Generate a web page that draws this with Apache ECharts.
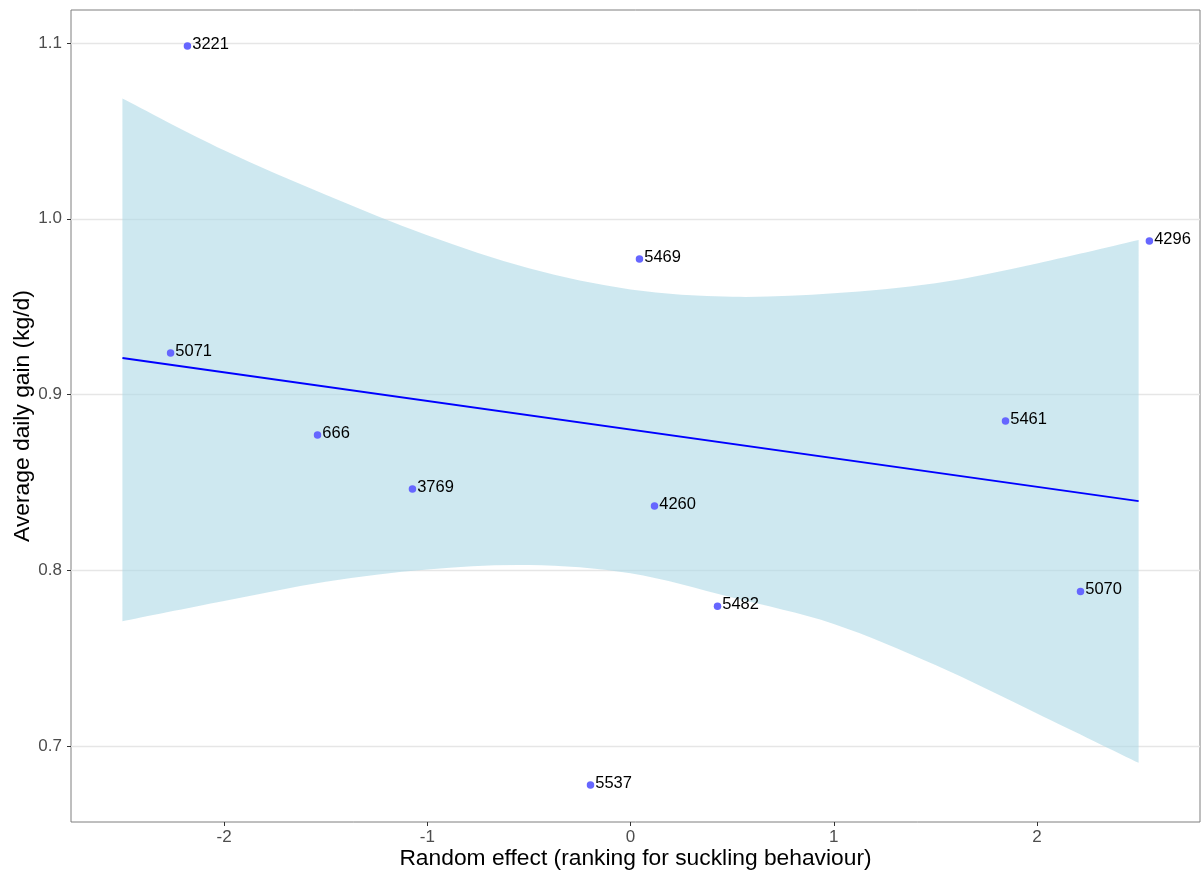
<!DOCTYPE html>
<html>
<head>
<meta charset="utf-8">
<script src="https://cdn.jsdelivr.net/npm/echarts@6/dist/echarts.min.js"></script>
<style>
  html, body { margin: 0; padding: 0; background: #fff; }
  #chart { width: 1201px; height: 870px; }
</style>
</head>
<body>
<div id="chart"></div>
<script>
// Sow IDs with their suckling-behaviour random effect and average daily gain
const sowIds = ['3221', '4296', '5469', '5071', '666', '5461', '3769', '4260', '5482', '5070', '5537'];
const randomEffect = [-2.180, 2.553, 0.044, -2.263, -1.540, 1.845, -1.073, 0.118, 0.428, 2.214, -0.197];
const dailyGain = [1.0983, 0.9873, 0.9771, 0.9236, 0.8770, 0.8849, 0.8462, 0.8366, 0.7795, 0.7880, 0.6778];

// Linear fit end points
const fitX = [-2.5, 2.5];
const fitY = [0.9208, 0.8394];

// Confidence band of the fit
const bandX = [-2.5, -2, -1.5, -1, -0.5, 0, 0.5, 1, 1.5, 2, 2.5];
const bandLower = [0.7710, 0.7825, 0.7935, 0.8005, 0.8030, 0.7983, 0.7845, 0.7695, 0.7461, 0.7186, 0.6905];
const bandUpper = [1.0685, 1.0390, 1.0137, 0.9906, 0.9718, 0.9598, 0.9556, 0.9576, 0.9633, 0.9746, 0.9879];

// Axis ticks
const xTicks = [-2, -1, 0, 1, 2];
const yTicks = [0.7, 0.8, 0.9, 1.0, 1.1];

const FONT = '"Liberation Sans", Arial, Helvetica, sans-serif';

const chart = echarts.init(document.getElementById('chart'), null, { renderer: 'canvas' });

const points = sowIds.map((id, i) => [randomEffect[i], dailyGain[i], id]);
const bandData = bandX.map((x, i) => [x, bandLower[i], bandUpper[i]]);

// Smooth curve through pixel points (Catmull-Rom as cubic Beziers)
function curveSegments(pts) {
  let d = '';
  for (let i = 0; i < pts.length - 1; i++) {
    const p0 = pts[Math.max(i - 1, 0)];
    const p1 = pts[i];
    const p2 = pts[i + 1];
    const p3 = pts[Math.min(i + 2, pts.length - 1)];
    const c1 = [p1[0] + (p2[0] - p0[0]) / 6, p1[1] + (p2[1] - p0[1]) / 6];
    const c2 = [p2[0] - (p3[0] - p1[0]) / 6, p2[1] - (p3[1] - p1[1]) / 6];
    d += ` C ${c1[0]} ${c1[1]} ${c2[0]} ${c2[1]} ${p2[0]} ${p2[1]}`;
  }
  return d;
}

function renderBand(params, api) {
  if (params.dataIndex !== 0) return null;
  const upper = bandData.map(r => api.coord([r[0], r[2]]));
  const lower = bandData.map(r => api.coord([r[0], r[1]])).reverse();
  let d = `M ${upper[0][0]} ${upper[0][1]}` + curveSegments(upper);
  d += ` L ${lower[0][0]} ${lower[0][1]}` + curveSegments(lower) + ' Z';
  return {
    type: 'path',
    shape: { pathData: d },
    style: { fill: 'rgba(173,216,230,0.6)', stroke: null }
  };
}

chart.setOption({
  animation: false,
  backgroundColor: '#ffffff',
  grid: {
    left: 71, right: 1, top: 10, bottom: 48,
    outerBoundsMode: 'none',
    containLabel: false,
    show: true, borderColor: '#7f7f7f', borderWidth: 1, backgroundColor: 'transparent'
  },
  xAxis: {
    type: 'value',
    min: -2.753, max: 2.802,
    name: 'Random effect (ranking for suckling behaviour)',
    nameLocation: 'middle',
    nameGap: 25,
    nameMoveOverlap: false,
    nameTextStyle: { fontFamily: FONT, fontSize: 22.8, color: '#000' },
    axisLine: { show: false, onZero: false },
    axisTick: { show: true, length: 4, lineStyle: { color: '#333333', width: 1 }, customValues: xTicks },
    axisLabel: {
      fontFamily: FONT, fontSize: 17, color: '#4d4d4d', margin: 7,
      customValues: xTicks,
      formatter: v => String(Math.round(v))
    },
    splitLine: { show: false }
  },
  yAxis: {
    type: 'value',
    min: 0.6568, max: 1.1188,
    name: 'Average daily gain (kg/d)',
    nameLocation: 'middle',
    nameRotate: 90,
    nameGap: 37,
    nameMoveOverlap: false,
    nameTextStyle: { fontFamily: FONT, fontSize: 22.8, color: '#000' },
    axisLine: { show: false, onZero: false },
    axisTick: { show: true, length: 4, lineStyle: { color: '#333333', width: 1 }, customValues: yTicks },
    axisLabel: {
      fontFamily: FONT, fontSize: 17, color: '#4d4d4d', margin: 9,
      customValues: yTicks,
      formatter: v => v.toFixed(1)
    },
    splitLine: { show: true, lineStyle: { color: '#e6e6e6', width: 1.3 } }
  },
  series: [
    {
      type: 'custom', name: 'band', data: bandData,
      renderItem: renderBand, silent: true, z: 1
    },
    {
      type: 'line', name: 'fit', data: fitX.map((x, i) => [x, fitY[i]]),
      symbol: 'none', lineStyle: { color: '#0000ff', width: 1.8 }, z: 3
    },
    {
      type: 'scatter', name: 'sows', data: points,
      symbolSize: 7.5,
      itemStyle: { color: '#6666ff', opacity: 1 },
      label: {
        show: true, position: 'right', distance: 1, offset: [0, -2],
        formatter: p => p.data[2],
        fontFamily: FONT, fontSize: 16.5, color: '#000'
      },
      z: 4
    }
  ]
});
</script>
</body>
</html>
